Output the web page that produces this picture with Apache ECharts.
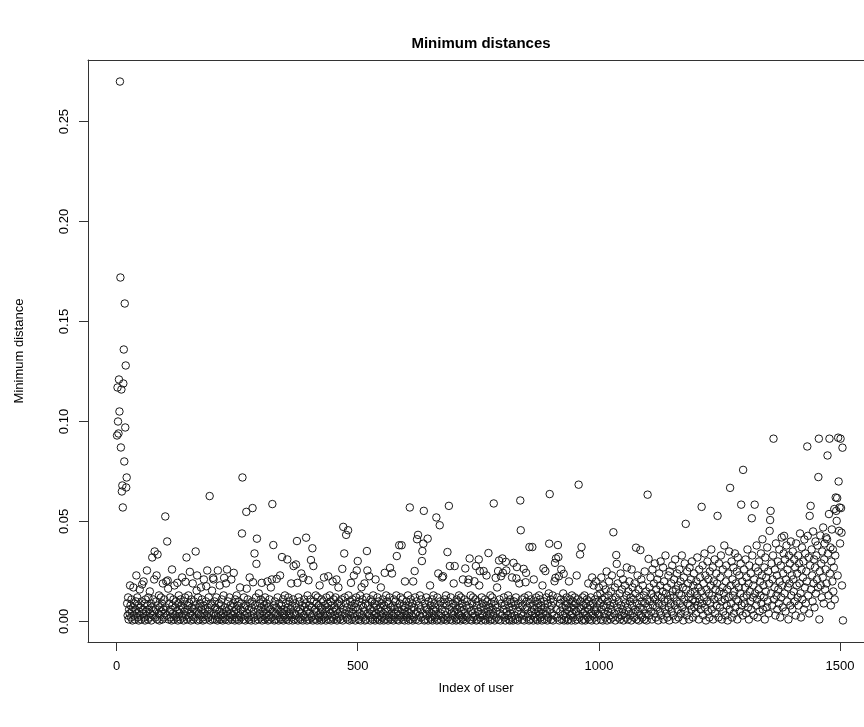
<!DOCTYPE html>
<html>
<head>
<meta charset="utf-8">
<script src="https://cdn.jsdelivr.net/npm/echarts@6/dist/echarts.min.js"></script>
<style>html,body{margin:0;padding:0;background:#fff}#c{width:864px;height:727px}</style>
</head>
<body>
<div id="c"></div>
<script>
// Minimum distance per user, in thousandths (0.001 units), 100 users per segment
const seg1 = [93,117,100,94,121,105,270,172,87,116, 65,68,57,119,136,80,159,97,128,67, 72,9,3,12,1,6,4,18,8,2, 11,5,0.5,7,17,3,9,1,6,10, 23,4,12,2,8,0.5,5,16,3,7, 1,10,18.5,4,6,20,2,9,0.5,11, 5,3,25.5,8,1,12,6,2,15,4, 9,0.5,7,32,3,11,5,21,35,2, 6,10,23,1,33.5,8,4,13,0.5,7, 3,12,5,9,1,19,6,2,11,4];
const seg2 = [52.5,7,20,3,40,20.5,16.4,1,9,5, 12,2,6,0.5,26,8,4,11,1,18, 3,7,10,2,5,19.3,0.5,9,13,4, 6,1,11,8,3,22,2,7,0.5,10, 5,12,19.8,3,32,1,8,6,13,2, 9,24.8,4,0.5,11,7,3,19,1,6, 10,2,8,35,5,15.4,23,0.5,12,4, 7,1,9,3,17,6,11,2,0.5,8, 21,4,6,1,10,17.6,3,25.5,7,2, 12,5,62.7,0.5,9,3,8,15.4,1,21.8];
const seg3 = [21,4,10,1,7,3,12,6,0.5,25.5, 2,9,5,18,1,8,3,11,6,0.5, 4,13,21.8,2,7,1,19,5,26,3, 10,0.5,6,12,2,8,4,21,1,7, 3,9,24.3,5,0.5,11,2,6,13,1, 8,4,10,0.5,3,17,6,2,9,44, 72,5,1,12,7,3,0.5,8,54.8,16.4, 4,11,2,6,1,22,9,3,0.5,7, 10,56.7,19.6,5,2,34,8,0.5,12,28.8, 41.4,3,6,1,14,4,9,2,11,7];
const seg4 = [19.3,0.5,5,10,3,8,1,12,6,2, 9,4,20,0.5,7,3,11,1,6,17, 2,21,58.7,5,38.2,8,0.5,10,4,1, 7,21.3,3,12,6,0.5,9,2,23,5, 1,8,32.2,4,11,0.5,6,3,13,2, 9,5,1,31,7,12,0.5,4,10,3, 6,19,2,8,0.5,11,27.7,4,1,9, 3,28.5,7,40.2,19.3,0.5,12,5,2,10, 6,1,24,4,8,0.5,21.8,3,11,7, 2,9,41.9,5,0.5,13,6,20.6,1,8];
const seg5 = [4,11,30.7,2,7,36.6,0.5,27.7,10,3, 6,1,13,5,9,0.5,12,3,8,2, 18,4,7,0.5,11,6,1,10,3,22, 2,8,5,0.5,12,7,3,9,22.6,1, 6,13,4,10,0.5,8,2,20,5,11, 1,7,3,12,6,21,0.5,9,4,17, 2,10,5,1,8,11,3,26.3,0.5,47.3, 6,34,12,4,9,43.3,2,7,1,45.6, 13,5,0.5,10,3,19.3,8,1,11,6, 4,23,2,9,0.5,7,12,25.5,3,30.2];
const seg6 = [6,1,10,4,13,0.5,8,17.1,3,11, 2,7,5,19,0.5,9,1,12,35.2,25.5, 4,8,3,22.6,6,0.5,11,2,10,5, 1,13,7,3,9,0.5,21,4,8,2, 12,6,1,10,3,0.5,7,17,5,9, 2,11,4,0.5,8,24.3,1,6,13,3, 10,5,0.5,9,2,12,26.8,7,1,4, 24,3,8,0.5,11,6,2,10,4,13, 32.7,1,7,5,0.5,38.1,9,3,12,2, 38.1,6,11,1,8,4,0.5,20,7,3];
const seg7 = [10,2,5,13,0.5,8,4,57,1,11, 6,3,9,0.5,20,2,7,25.2,12,4, 1,10,41.1,5,43.3,0.5,8,3,13,6, 2,11,30.2,35.2,4,38.9,55.3,0.5,9,1, 7,12,3,6,41.4,0.5,10,5,2,18, 8,1,4,11,0.5,6,13,3,9,2, 7,5,52,0.5,12,1,24,8,3,48.1, 10,4,0.5,6,22,2,22.6,9,1,11, 5,3,13,0.5,8,34.7,2,10,57.8,6, 27.7,1,12,4,7,0.5,9,3,19,5];
const seg8 = [27.7,2,8,0.5,11,6,1,10,4,13, 3,7,0.5,12,5,9,2,21,1,6, 11,4,26.5,0.5,8,3,10,2,19.3,21, 7,31.5,1,13,5,0.5,9,4,12,2, 6,20.1,3,11,27.7,0.5,8,1,10,5, 31,18,25.2,2,7,0.5,12,4,9,3, 25.2,6,1,11,0.5,8,23,3,10,5, 34.2,2,7,0.5,13,4,9,1,12,6, 3,59,10,0.5,8,21.8,5,2,17,7, 25.2,1,30.5,11,4,0.5,22.6,9,3,31.5];
const seg9 = [24.3,6,12,2,8,0.5,29.8,25.5,5,10, 3,13,1,7,0.5,11,4,9,2,22, 6,0.5,29.3,10,3,8,1,12,21.5,27.2, 5,0.5,9,2,19,7,60.5,45.6,4,11, 1,8,3,26.3,0.5,12,6,19.6,24.3,10, 2,7,4,13,0.5,37.2,9,1,11,5, 3,37.2,8,0.5,21,6,2,10,4,12, 1,7,0.5,9,5,13,3,11,2,8, 6,0.5,18,4,26.5,10,1,7,25.2,3, 12,5,0.5,9,2,14,38.9,63.7,6,11];
const seg10 = [1,8,4,13,0.5,10,3,20.1,29.3,21.8, 31.5,6,2,12,38.2,32.2,22.6,0.5,9,5, 11,26,1,7,3,14,23.8,0.5,10,4, 8,2,12,6,0.5,9,1,20,5,11, 3,7,0.5,13,4,10,2,8,6,12, 0.5,9,5,23,1,11,3,68.4,7,2, 33.5,10,6,37.2,0.5,12,4,8,1,13, 5,0.5,9,3,11,7,2,19,6,10, 1,8,12,4,0.5,22,3,9,18,6, 2,11,5,20,0.5,7,13,4,10,17];
const seg11 = [3,9,14,1,22,6,11,0.5,18,8, 4,12,2,16,7,25,0.5,10,5,13, 20,3,8,1,15,6,23,11,2,44.6, 9,4,17,0.5,12,33.2,28.8,7,19,2, 10,5,14,1,24,8,3,16,6,21, 0.5,11,4,18,9,2,13,27,7,1, 15,5,20,10,3,12,0.5,26,8,17, 4,11,2,19,6,14,36.9,1,9,23, 5,16,0.5,12,7,35.7,3,21,10,2, 18,6,13,1,25,9,4,15,0.5,11];
const seg12 = [63.4,7,31.3,3,17,10,22,5,14,1, 26,8,12,19,4,29,11,2,16,7, 21,13,0.5,9,24,5,18,30,3,12, 8,15,27,1,20,10,6,33,14,4, 17,2,11,23,7,0.5,25,13,9,19, 5,28,15,3,12,21,8,31,1,16, 10,24,6,18,2,14,26,9,20,4, 13,33,7,17,0.5,22,11,29,5,48.8, 16,3,25,9,19,12,1,27,8,14, 21,6,30,11,2,18,24,7,15,10];
const seg13 = [4,20,13,32,8,17,1,26,11,22, 6,15,57.3,9,28,3,19,12,34,7, 23,0.5,16,10,30,5,21,14,2,25, 9,18,36,6,13,27,1,20,11,31, 4,16,24,8,19,52.8,12,2,29,15, 7,22,33,10,1,17,26,5,14,38, 11,3,20,28,8,16,0.5,24,12,35, 6,66.8,18,9,30,2,21,13,27,4, 15,34,7,19,11,25,1,32,10,17, 23,5,14,29,58.4,8,20,3,75.8,12];
const seg14 = [26,9,17,31,4,22,13,36,7,19, 1,28,15,10,24,6,51.6,33,12,18, 3,21,58.4,14,27,8,38,11,2,25, 16,30,5,20,13,34,9,23,41.1,6, 18,12,27,1,32,15,22,7,37,10, 25,4,19,45.3,50.7,55.3,14,29,8,21, 33,91.4,11,17,26,3,39,13,23,6, 30,16,9,36,20,2,28,12,42,18, 7,24,34,42.8,14,31,5,21,38,10, 26,17,1,33,19,29,8,40,13,23];
const seg15 = [6,35,21,15,31,10,27,3,39,18, 24,12,33,8,29,19,44,14,2,26, 37,11,22,30,6,41,17,34,9,25, 20,87.5,42.8,13,32,4,52.8,28,57.8,16, 36,23,10,45,19,31,7,27,40,14, 33,21,38,17,72.2,91.4,1,25,43,18, 29,12,35,22,47,9,31,39,16,26, 42,19,41.1,83,34,13,53.7,91.4,24,37, 8,30,46,20,36,15,27,56.2,11,33, 62,55.3,50.3,61.7,23,91.9,70,45.3,57,39, 91.4,56.7,44.4,18,86.9,0.5];

const segments = [seg1,seg2,seg3,seg4,seg5,seg6,seg7,seg8,seg9,seg10,seg11,seg12,seg13,seg14,seg15];
const xTicks = [0, 500, 1000, 1500];
const yTicks = [0, 0.05, 0.10, 0.15, 0.20, 0.25];

const points = [];
segments.forEach((seg, k) => {
  seg.forEach((v, i) => points.push([k * 100 + i + 1, v / 1000]));
});
const n = points.length;
let ymax = 0, ymin = Infinity;
points.forEach(p => { ymax = Math.max(ymax, p[1]); ymin = Math.min(ymin, p[1]); });
const xpad = 0.04 * (n - 1), ypad = 0.04 * (ymax - ymin);

// plot region in the original runs past the right edge of the picture
const gridLeft = 88, fullWidth = 784, visWidth = 864 - gridLeft;
const xmin = 1 - xpad, xmaxFull = n + xpad;
const xmaxVis = xmin + (xmaxFull - xmin) * visWidth / fullWidth;

const font = '"Liberation Sans", Arial, Helvetica, sans-serif';
const lineCol = '#333';
const chart = echarts.init(document.getElementById('c'), null, {renderer: 'canvas'});
chart.setOption({
  animation: false,
  backgroundColor: '#fff',
  title: {
    text: 'Minimum distances',
    left: 476, top: 31, textAlign: 'center',
    textStyle: {fontFamily: font, fontSize: 15, fontWeight: 'bold', color: '#000'}
  },
  grid: {left: gridLeft, top: 60, right: 0, height: 582, show: false},
  xAxis: [{
    type: 'value', min: xmin, max: xmaxVis, position: 'bottom',
    name: 'Index of user', nameLocation: 'middle', nameGap: 40,
    nameTextStyle: {fontFamily: font, fontSize: 13, color: '#000'},
    axisLine: {show: true, onZero: false, lineStyle: {color: lineCol, width: 1}},
    axisTick: {show: true, inside: false, length: 9, customValues: xTicks, lineStyle: {color: lineCol}},
    axisLabel: {customValues: xTicks, margin: 18, fontFamily: font, fontSize: 13, color: '#000',
      formatter: v => String(Math.round(v))},
    splitLine: {show: false}
  }, {
    type: 'value', min: xmin, max: xmaxVis, position: 'top',
    axisLine: {show: true, onZero: false, lineStyle: {color: lineCol, width: 1}},
    axisTick: {show: false}, axisLabel: {show: false}, splitLine: {show: false}
  }],
  yAxis: {
    type: 'value', min: ymin - ypad, max: ymax + ypad, position: 'left',
    name: 'Minimum distance', nameLocation: 'middle', nameGap: 62, nameRotate: 90,
    nameTextStyle: {fontFamily: font, fontSize: 13, color: '#000'},
    axisLine: {show: true, onZero: false, lineStyle: {color: lineCol, width: 1}},
    axisTick: {show: true, inside: false, length: 9, customValues: yTicks, lineStyle: {color: lineCol}},
    axisLabel: {customValues: yTicks, rotate: 90, margin: 17, fontFamily: font, fontSize: 13, color: '#000',
      formatter: v => v.toFixed(2)},
    splitLine: {show: false}
  },
  series: [{
    type: 'scatter',
    data: points,
    symbol: 'circle',
    symbolSize: 7.5,
    large: false,
    progressive: 0,
    itemStyle: {color: 'rgba(0,0,0,0)', borderColor: '#1a1a1a', borderWidth: 1, opacity: 1},
    emphasis: {disabled: true}
  }]
});
</script>
</body>
</html>
